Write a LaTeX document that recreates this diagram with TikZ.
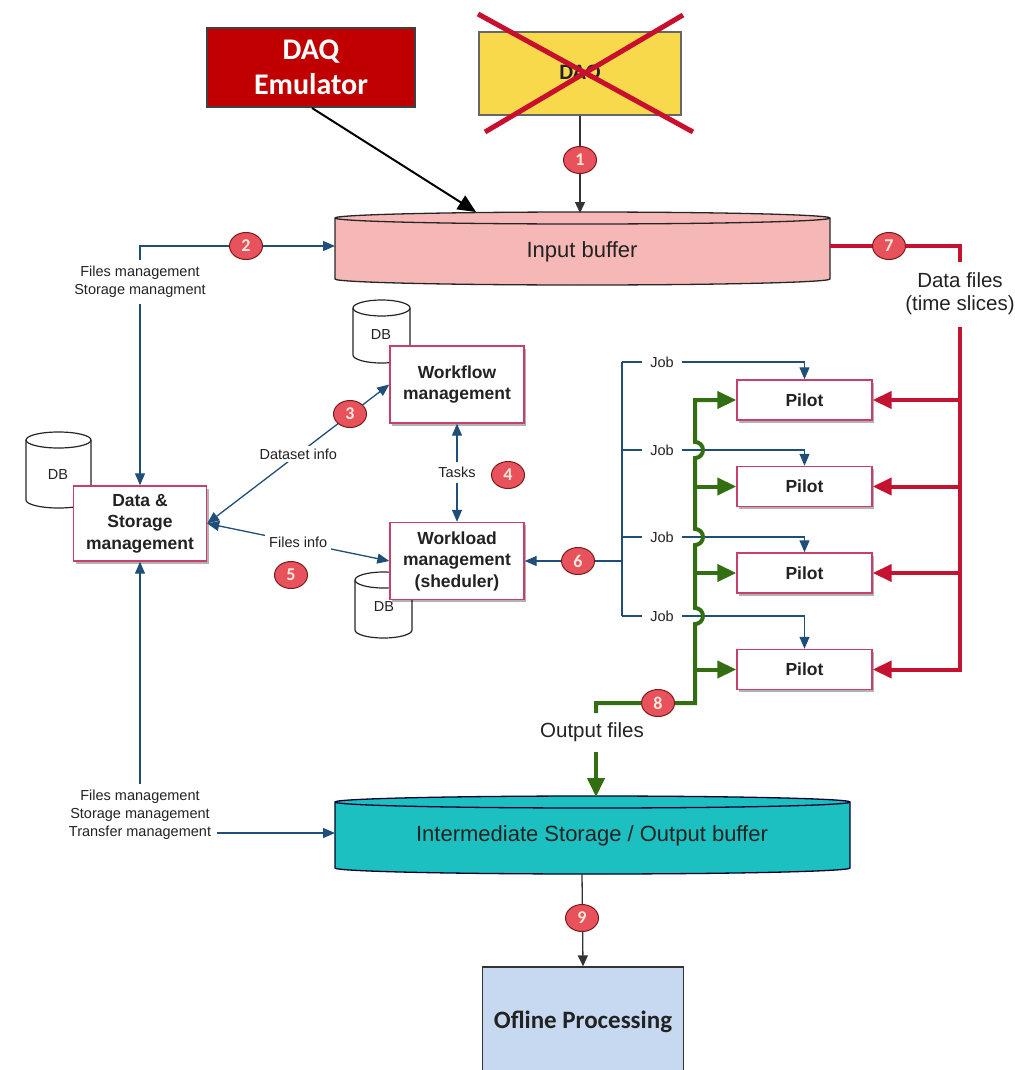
\documentclass[tikz,border=0pt]{standalone}
\usepackage{fontspec}
\setmainfont{Liberation Sans}
\newfontfamily\calfont{Carlito}
\usetikzlibrary{arrows.meta,shapes.geometric,shadows}
\definecolor{txt}{HTML}{222222}
\definecolor{boxred}{HTML}{C8406A}
\definecolor{emured}{HTML}{C00000}
\definecolor{daqyel}{HTML}{F9D94C}
\definecolor{xred}{HTML}{C8102E}
\definecolor{ibpink}{HTML}{F5B8B6}
\definecolor{isteal}{HTML}{1CC0C0}
\definecolor{offblue}{HTML}{C6D9F1}
\definecolor{lineblue}{HTML}{1F4E79}
\definecolor{thickred}{HTML}{C41230}
\definecolor{thickgreen}{HTML}{336E12}
\definecolor{numfill}{HTML}{E8525C}
\definecolor{numdark}{HTML}{7A1A1A}
\definecolor{numtext}{HTML}{FFEBD9}
\newcommand{\drawcyl}[6]{%
 \pgfmathsetmacro{\cylrx}{(#3-#2)/2}%
 \path[#1] (#2,#4) -- (#2,#5) arc[start angle=180,end angle=0,x radius=\cylrx,y radius=#6] -- (#3,#4) arc[start angle=0,end angle=-180,x radius=\cylrx,y radius=#6] -- cycle;
 \draw[#1,fill=none] (#2,#4) arc[start angle=180,end angle=0,x radius=\cylrx,y radius=#6];
}
\begin{document}
\begin{tikzpicture}[x=1pt,y=-1pt,
 every node/.style={text=txt},
 mgmt/.style={draw=boxred, line width=1.4pt, fill=white, align=center, inner sep=0pt,
   font=\bfseries\fontsize{17.5}{21.5}\selectfont,
   drop shadow={shadow xshift=2pt, shadow yshift=-2.5pt, opacity=0.3, fill=black}},
 num/.style={ellipse, draw=numdark, fill=numfill, line width=1pt, minimum width=33pt,
   minimum height=27pt, inner sep=0pt, text=numtext, font=\calfont\bfseries\fontsize{18}{18}\selectfont},
 small/.style={font=\fontsize{14.5}{18}\selectfont, align=center, inner sep=0pt},
 big/.style={font=\fontsize{20.5}{23}\selectfont, align=center, inner sep=0pt},
 dbc/.style={draw=black!85, fill=white, line width=1.2pt},
 bl/.style={draw=lineblue, line width=1.3pt},
 bla/.style={bl, -{Triangle[length=12pt,width=10pt]}},
 blab/.style={bl, {Triangle[length=12pt,width=10pt]}-{Triangle[length=12pt,width=10pt]}},
 rl/.style={draw=thickred, line width=4pt},
 rla/.style={rl, -{Triangle[length=19pt,width=17pt]}},
 gl/.style={draw=thickgreen, line width=4pt},
 gla/.style={gl, -{Triangle[length=19pt,width=17pt]}},
 dka/.style={draw=black!80, line width=1.3pt, -{Triangle[length=11pt,width=10pt]}}
]
\useasboundingbox (0,0) rectangle (1014,1070);
\clip (0,0) rectangle (1014,1070);

% ---------- top: emulator and DAQ ----------
\node[draw=black!75, line width=2pt, fill=emured, minimum width=208pt, minimum height=79pt,
  inner sep=0pt, align=center, text=white, font=\calfont\bfseries\fontsize{30}{35}\selectfont]
  (emu) at (311,67.5) {DAQ\\Emulator};
\node[draw=black!60, line width=1.2pt, fill=daqyel, minimum width=202pt, minimum height=83pt,
  inner sep=0pt, font=\calfont\bfseries\fontsize{22}{22}\selectfont] (daq) at (580,73.5) {DAQ};
\draw[xred, line width=5pt] (478,14) -- (693,132);
\draw[xred, line width=5pt] (683,15) -- (485,132);

% ---------- cylinders ----------
\drawcyl{draw=black!85, fill=ibpink, line width=1.3pt}{335}{830}{218}{279}{6}
\node[big, font=\fontsize{22}{22}\selectfont] (ib) at (582,252) {Input buffer};
\coordinate (ibW) at (335,246);
\coordinate (ibE) at (830,246);
\coordinate (ibTop) at (580,213);
\coordinate (emuEnd) at (476,212);

\drawcyl{draw=black!80!blue, fill=isteal, line width=1.3pt}{335}{850}{802}{868}{6}
\node[big, font=\fontsize{22}{22}\selectfont] (is) at (592,836) {Intermediate Storage / Output buffer};
\coordinate (isW) at (335,833);
\coordinate (isTop) at (596,797);
\coordinate (isBot) at (582,874);

% DB cylinders
\drawcyl{dbc}{353}{410}{308}{355}{8}
\node[small] (db1) at (381,335) {DB};
\drawcyl{dbc}{26}{91}{440}{500}{8}
\node[small] (db2) at (58,475) {DB};
\drawcyl{dbc}{355}{412}{580}{630}{8}
\node[small] (db3) at (384,607) {DB};

% ---------- management boxes ----------
\node[mgmt, minimum width=134pt, minimum height=77pt] (wf) at (457,384.5) {Workflow\\management};
\node[mgmt, minimum width=134pt, minimum height=77pt] (wl) at (457,561) {Workload\\management\\(sheduler)};
\node[mgmt, minimum width=133pt, minimum height=75pt] (ds) at (140,523.5) {Data \&\\Storage\\management};

\node[mgmt, minimum width=135pt, minimum height=40pt] (p1) at (804.5,400) {Pilot};
\node[mgmt, minimum width=135pt, minimum height=40pt] (p2) at (804.5,486.5) {Pilot};
\node[mgmt, minimum width=135pt, minimum height=40pt] (p3) at (804.5,573) {Pilot};
\node[mgmt, minimum width=135pt, minimum height=40pt] (p4) at (804.5,669.5) {Pilot};

\node[draw=black!80, line width=1.3pt, fill=offblue, minimum width=201pt, minimum height=110pt,
  inner sep=0pt, font=\calfont\bfseries\fontsize{25}{25}\selectfont] (off) at (583,1022) {Ofline Processing};

% ---------- top connectors ----------
\draw[black, line width=2pt, -{Triangle[length=18pt,width=16pt]}] (emu.south) ++(1,0) coordinate (emuS) -- (emuEnd);
\draw[dka] (daq.south) -- (ibTop);
\node[num] (n1) at (580,160) {1};

% ---------- left side ----------
\node[small, inner sep=6pt] (fm1) at (140,282) {Files management\\Storage managment};
\draw[bla] (fm1.north) |- (ibW);
\node[num] (n2) at (246,246) {2};
\draw[bla] (fm1.south) -- (ds.north);

\node[small, inner sep=6pt] (fm2) at (140,815) {Files management\\Storage management\\Transfer management};
\draw[bla] (fm2.north) -- (ds.south);
\draw[bla] (fm2.east |- isW) -- (isW);

% ---------- centre ----------
\draw[blab] (ds.east) -- (wf.west) node[pos=0.5, small, fill=white, inner sep=3pt] (dsi) {Dataset info};
\node[num] (n3) at (350,414) {3};
\draw[blab] (ds.east) -- (wl.west) node[pos=0.5, small, fill=white, inner sep=4pt] (fi) {Files info};
\node[num] (n5) at (291,575) {5};
\draw[blab] (wl.north) -- (wf.south) node[midway, small, fill=white, inner sep=5pt] (tk) {Tasks};
\node[num] (n4) at (508,475) {4};

% ---------- jobs ----------
\coordinate (jtop) at (622,362);
\coordinate (jbot) at (622,616);
\draw[bl] (jtop) -- (jbot);
\draw[bla] (622,561) -- (wl.east);
\node[num] (n6) at (578,561) {6};
\node[small, inner xsep=8pt, inner ysep=2pt] (j1) at (662,362) {Job};
\node[small, inner xsep=8pt, inner ysep=2pt] (j2) at (662,450) {Job};
\node[small, inner xsep=8pt, inner ysep=2pt] (j3) at (662,537) {Job};
\node[small, inner xsep=8pt, inner ysep=2pt] (j4) at (662,616) {Job};
\foreach \j/\p in {j1/p1,j2/p2,j3/p3,j4/p4}{
  \draw[bl] (\j.west -| jtop) -- (\j.west);
  \draw[bla] (\j.east) -| (\p.north);
}

% ---------- green output ----------
\draw[gla, line join=miter] (596,713) -- (596,703) -- (695,703) -- (695,624)
  arc[start angle=90, end angle=-90, radius=8] -- (695,545)
  arc[start angle=90, end angle=-90, radius=8] -- (695,458)
  arc[start angle=90, end angle=-90, radius=8] -- (695,400) -- (p1.west);
\coordinate (gsp) at (695,0);
\foreach \p in {p2,p3,p4}{
  \draw[gla] (\p.west -| gsp) -- (\p.west);
}
\node[num] (n8) at (658,703) {8};
\node[big] (of) at (592,732) {Output files};
\draw[gla] (596,752) -- (isTop);

% ---------- red data files ----------
\draw[rl] (ibE) -- (960,246) -- (960,262);
\node[num] (n7) at (889,246) {7};
\node[big] (df) at (960,294) {Data files\\(time slices)};
\coordinate (rsp) at (960,0);
\draw[rla, line join=miter] (960,327) -- (p4.east -| rsp) -- (p4.east);
\foreach \p in {p1,p2,p3}{
  \draw[rla] (\p.east -| rsp) -- (\p.east);
}

% ---------- bottom ----------
\draw[dka] (isBot) -- (off.north);
\node[num] (n9) at (582,918) {9};
\end{tikzpicture}
\end{document}
